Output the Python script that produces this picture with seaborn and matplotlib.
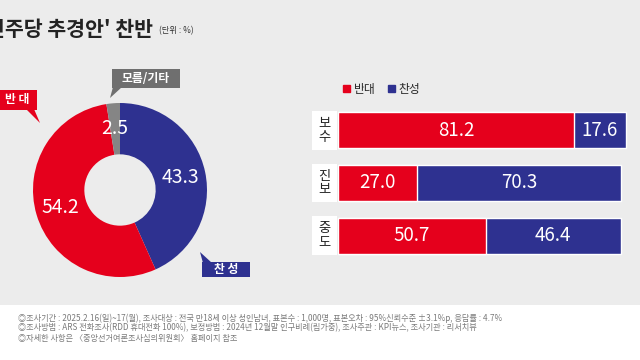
import numpy as np
import pandas as pd
import seaborn as sns
import matplotlib.pyplot as plt
from matplotlib.patches import Rectangle, Polygon
from matplotlib.transforms import blended_transform_factory

# data
pie_labels = ['찬 성', '반 대', '모름/기타']
pie_values = [43.3, 54.2, 2.5]

groups = ['보\n수', '진\n보', '중\n도']
oppose = [81.2, 27.0, 50.7]
support = [17.6, 70.3, 46.4]

footer_lines = [
    '◎조사기간 : 2025.2.16(일)~17(월), 조사대상 : 전국 만18세 이상 성인남녀, 표본수 : 1,000명, 표본오차 : 95%신뢰수준 ±3.1%p, 응답률 : 4.7%',
    '◎조사방법 : ARS 전화조사(RDD 휴대전화 100%), 보정방법 : 2024년 12월말 인구비례(림가중), 조사주관 : KPI뉴스, 조사기관 : 리서치뷰',
    '◎자세한 사항은 〈중앙선거여론조사심의위원회〉 홈페이지 참조',
]

RED = '#e5001c'
BLUE = '#2e3190'
GRAY = '#858585'
BG = '#ececec'

sns.set_style('white')
plt.rcParams['font.family'] = ['Noto Sans CJK KR', 'DejaVu Sans']

W, H = 640, 360
fig = plt.figure(figsize=(6.4, 3.6), dpi=100, facecolor=BG)


def px(x, y):
    return (x / W, 1 - y / H)


# footer area
fig.patches.append(Rectangle(px(0, 360), 1, 55 / H, transform=fig.transFigure,
                             facecolor='white', edgecolor='none', zorder=0))
for i, line in enumerate(footer_lines):
    fig.text(*px(18, 318 + i * 10), line, fontsize=5.9, color='#7a7a7a', va='center')

# title (left edge is cropped in the reference)
fig.text(*px(-14, 29), "민주당 추경안' 찬반", fontsize=14.8, fontweight='bold',
         color='#222222', va='center')
fig.text(*px(159, 31), '(단위 : %)', fontsize=6, color='#333333', va='center')

# donut
axp = fig.add_axes([33 / W, 1 - 277 / H, 174 / W, 174 / H])
wedges, _, autotexts = axp.pie(pie_values, colors=[BLUE, RED, GRAY], startangle=90,
                               counterclock=False, autopct='%.1f', pctdistance=0.71,
                               wedgeprops=dict(width=0.59, edgecolor='none'))
for t in autotexts:
    t.set_color('white')
    t.set_fontsize(14)
axp.set_xlim(-1, 1)
axp.set_ylim(-1, 1)
axp.axis('off')


def callout(label, box, tail, color):
    x0, y0, x1, y1 = box
    fig.patches.append(Rectangle(px(x0, y1), (x1 - x0) / W, (y1 - y0) / H,
                                 transform=fig.transFigure, facecolor=color,
                                 edgecolor='none', zorder=3))
    fig.patches.append(Polygon([px(*p) for p in tail], closed=True,
                               transform=fig.transFigure, facecolor=color,
                               edgecolor='none', zorder=3))
    fig.text(*px((x0 + x1) / 2, (y0 + y1) / 2), label, fontsize=8.5, color='white',
             fontweight='bold', ha='center', va='center', zorder=4)


callout(pie_labels[1], (-2, 90, 37, 110), [(26, 109), (34, 109), (40, 123)], RED)
callout(pie_labels[2], (112, 69, 180, 88), [(113, 87), (122, 87), (110, 98)], '#6f6f6f')
callout(pie_labels[0], (202, 262, 250, 277), [(203, 263), (212, 263), (200, 252)], BLUE)

# bars
df = pd.DataFrame({'group': groups, 'oppose': oppose, 'support': support})
df['total'] = df['oppose'] + df['support']

axb = fig.add_axes([338 / W, 1 - 262 / H, 291 / W, 158 / H])
axb.set_facecolor('none')
sns.barplot(data=df, x='total', y='group', color=BLUE, width=0.68, saturation=1,
            orient='h', ax=axb)
sns.barplot(data=df, x='oppose', y='group', color=RED, width=0.68, saturation=1,
            orient='h', ax=axb)
axb.set_xlim(0, 100)
axb.set_ylim(2.5, -0.5)
axb.set_xlabel('')
axb.set_ylabel('')
axb.set_xticks([])
axb.set_yticks([])
for s in axb.spines.values():
    s.set_visible(False)

for i, (o, s) in enumerate(zip(oppose, support)):
    axb.text(o / 2, i, f'{o:.1f}', color='white', fontsize=13.5, ha='center', va='center')
    axb.text(o + s / 2, i, f'{s:.1f}', color='white', fontsize=13.5, ha='center', va='center')

trans = blended_transform_factory(axb.transAxes, axb.transData)
for i, g in enumerate(groups):
    axb.add_patch(Rectangle((-26 / 291, i - 0.37), 25 / 291, 0.74, transform=trans,
                            facecolor='white', edgecolor='none', clip_on=False))
    axb.text(-13.5 / 291, i, g, transform=trans, fontsize=9.5, color='#222222',
             ha='center', va='center', linespacing=1.05)

handles = [Rectangle((0, 0), 1, 1, color=RED), Rectangle((0, 0), 1, 1, color=BLUE)]
axb.legend(handles, ['반대', '찬성'], loc='lower left', bbox_to_anchor=(-0.01, 1.0),
           ncol=2, frameon=False, fontsize=8.5, handlelength=0.6, handleheight=0.6,
           handletextpad=0.3, columnspacing=1.0, borderpad=0.2)

fig.savefig('out.png', dpi=100, facecolor=BG)
